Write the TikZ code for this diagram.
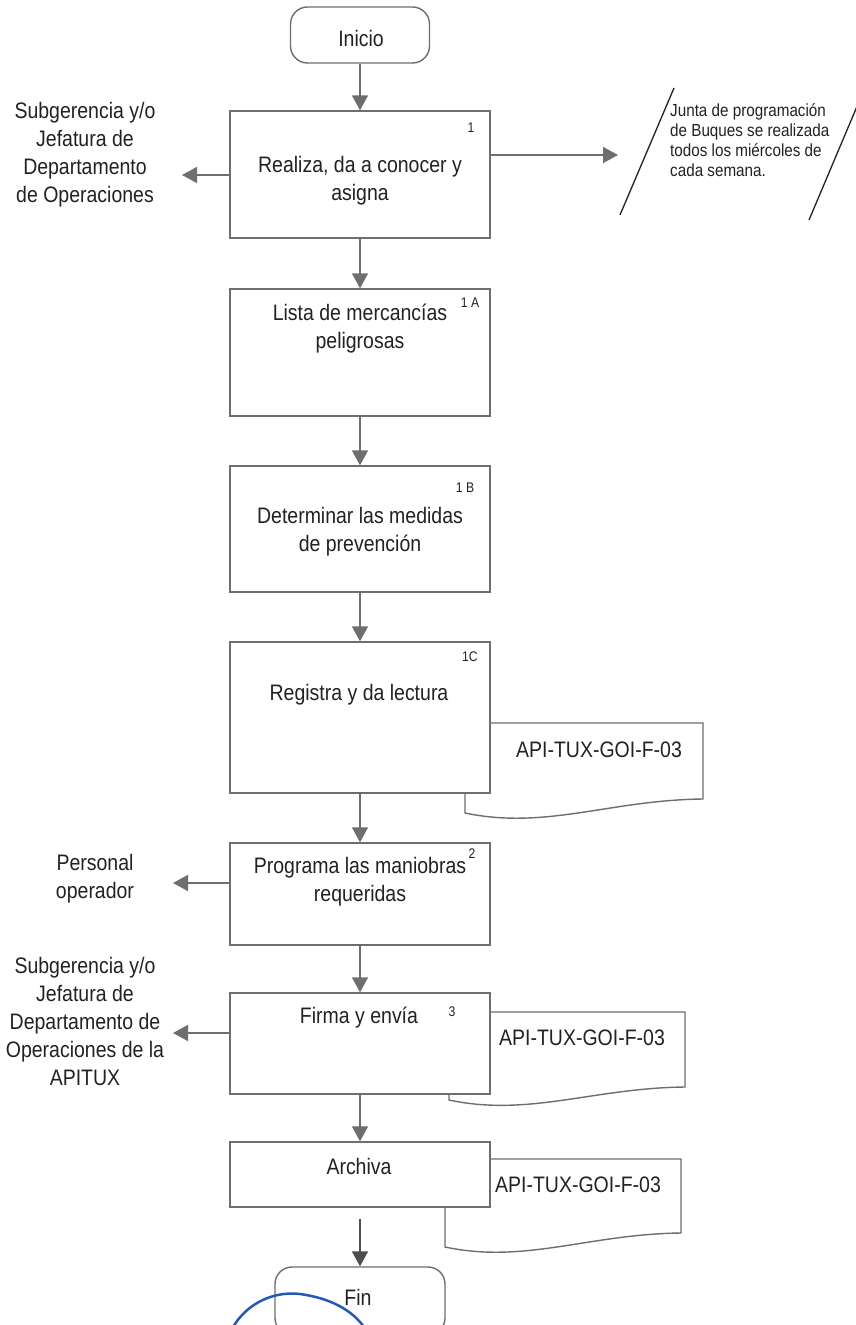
\documentclass[tikz,border=0pt]{standalone}
\usepackage{fontspec}
\setmainfont{Liberation Sans}[FakeStretch=0.87]
\usetikzlibrary{arrows.meta}
\definecolor{linec}{HTML}{6E6E6E}
\definecolor{ink}{HTML}{222222}
\definecolor{pen}{HTML}{2458B8}
\begin{document}
\begin{tikzpicture}[x=1pt,y=-1pt,
  box/.style={draw=linec, line width=1.4pt, fill=white, inner sep=0pt, minimum width=260pt},
  term/.style={draw=linec, line width=1.4pt, fill=white, rounded corners=17pt, inner sep=0pt},
  doc/.style={draw=linec, line width=1.4pt, fill=white},
  txt/.style={font=\fontsize{22.4}{28}\selectfont, text=ink, align=center, inner sep=0pt},
  num/.style={font=\fontsize{14}{16}\selectfont, text=ink, inner sep=0pt},
  note/.style={font=\fontsize{17.5}{20}\selectfont, text=ink, align=left, inner sep=0pt},
  flow/.style={draw=linec, line width=1.5pt, -{Triangle[length=15pt,width=16pt]}},
  flowdark/.style={draw=ink!80, line width=1.5pt, -{Triangle[length=15pt,width=16pt]}},
  slash/.style={draw=ink, line width=1.3pt}
]
\useasboundingbox (0,0) rectangle (856,1325);
\fill[white] (0,0) rectangle (856,1325);

% documents (behind the boxes)
\draw[doc] (465,723) -- (703,723) -- (703,799) .. controls (610,800) and (546,830) .. (465,813) -- cycle;
\draw[doc] (449,1012) -- (685,1012) -- (685,1087) .. controls (593,1088) and (529,1117) .. (449,1100) -- cycle;
\draw[doc] (445,1159) -- (681,1159) -- (681,1233) .. controls (589,1234) and (525,1264) .. (445,1247) -- cycle;
\node[txt] (d1t) at (599,750) {API-TUX-GOI-F-03};
\node[txt] (d2t) at (582,1038) {API-TUX-GOI-F-03};
\node[txt] (d3t) at (578,1185) {API-TUX-GOI-F-03};

% terminators
\node[term, minimum width=139pt, minimum height=56pt] (ini) at (360,35) {};
\node[txt] (init) at (361,38) {Inicio};
\node[term, minimum width=170pt, minimum height=68pt] (fin) at (360,1301) {};
\node[txt] (fint) at (358,1297) {Fin};

% process boxes
\node[box, minimum height=127pt] (b1) at (360,174.5) {};
\node[txt] (b1t) at (360,181) {Realiza, da a conocer y\\asigna};
\node[num] (b1n) at (471,128) {1};

\node[box, minimum height=127pt] (b1a) at (360,352.5) {};
\node[txt] (b1at) at (360,329) {Lista de mercancías\\peligrosas};
\node[num] (b1an) at (470,303) {1 A};

\node[box, minimum height=126pt] (b1b) at (360,529) {};
\node[txt] (b1bt) at (360,532) {Determinar las medidas\\de prevención};
\node[num] (b1bn) at (465,488) {1 B};

\node[box, minimum height=151pt] (b1c) at (360,717.5) {};
\node[txt] (b1ct) at (359,695) {Registra y da lectura};
\node[num] (b1cn) at (470,657) {1C};

\node[box, minimum height=102pt] (b2) at (360,894) {};
\node[txt] (b2t) at (360,882) {Programa las maniobras\\requeridas};
\node[num] (b2n) at (472,854) {2};

\node[box, minimum height=101pt] (b3) at (360,1043.5) {};
\node[txt] (b3t) at (359,1018) {Firma y envía};
\node[num] (b3n) at (452,1012) {3};

\node[box, minimum height=65pt] (b4) at (360,1174.5) {};
\node[txt] (b4t) at (359,1166) {Archiva};

% main flow
\draw[flow] (ini) -- (b1);
\draw[flow] (b1) -- (b1a);
\draw[flow] (b1a) -- (b1b);
\draw[flow] (b1b) -- (b1c);
\draw[flow] (b1c) -- (b2);
\draw[flow] (b2) -- (b3);
\draw[flow] (b3) -- (b4);
\draw[flowdark] ([yshift=-11pt]b4.south) -- (fin);

% side labels and arrows
\node[txt] (l1) at (85,155) {Subgerencia y/o\\Jefatura de\\Departamento\\de Operaciones};
\coordinate (l1e) at (182,175);
\draw[flow] (b1.west |- l1e) -- (l1e);

\node[txt] (l2) at (95,879) {Personal\\operador};
\coordinate (l2e) at (173,883);
\draw[flow] (b2.west |- l2e) -- (l2e);

\node[txt] (l3) at (85,1021) {Subgerencia y/o\\Jefatura de\\Departamento de\\Operaciones de la\\APITUX};
\coordinate (l3e) at (173,1033);
\draw[flow] (b3.west |- l3e) -- (l3e);

% note on the right
\coordinate (r1e) at (618,155);
\draw[flow] (b1.east |- r1e) -- (r1e);
\draw[slash] (674,88) -- (620,215);
\draw[slash] (858,104) -- (809,220);
\node[note, anchor=west] (nt) at (670,140) {Junta de programación\\de Buques se realizada\\todos los miércoles de\\cada semana.};

% hand-drawn blue mark
\draw[pen, line width=2.5pt] (233,1327) .. controls (248,1302) and (275,1291) .. (300,1294) .. controls (330,1298) and (352,1310) .. (364,1327);
\end{tikzpicture}
\end{document}
